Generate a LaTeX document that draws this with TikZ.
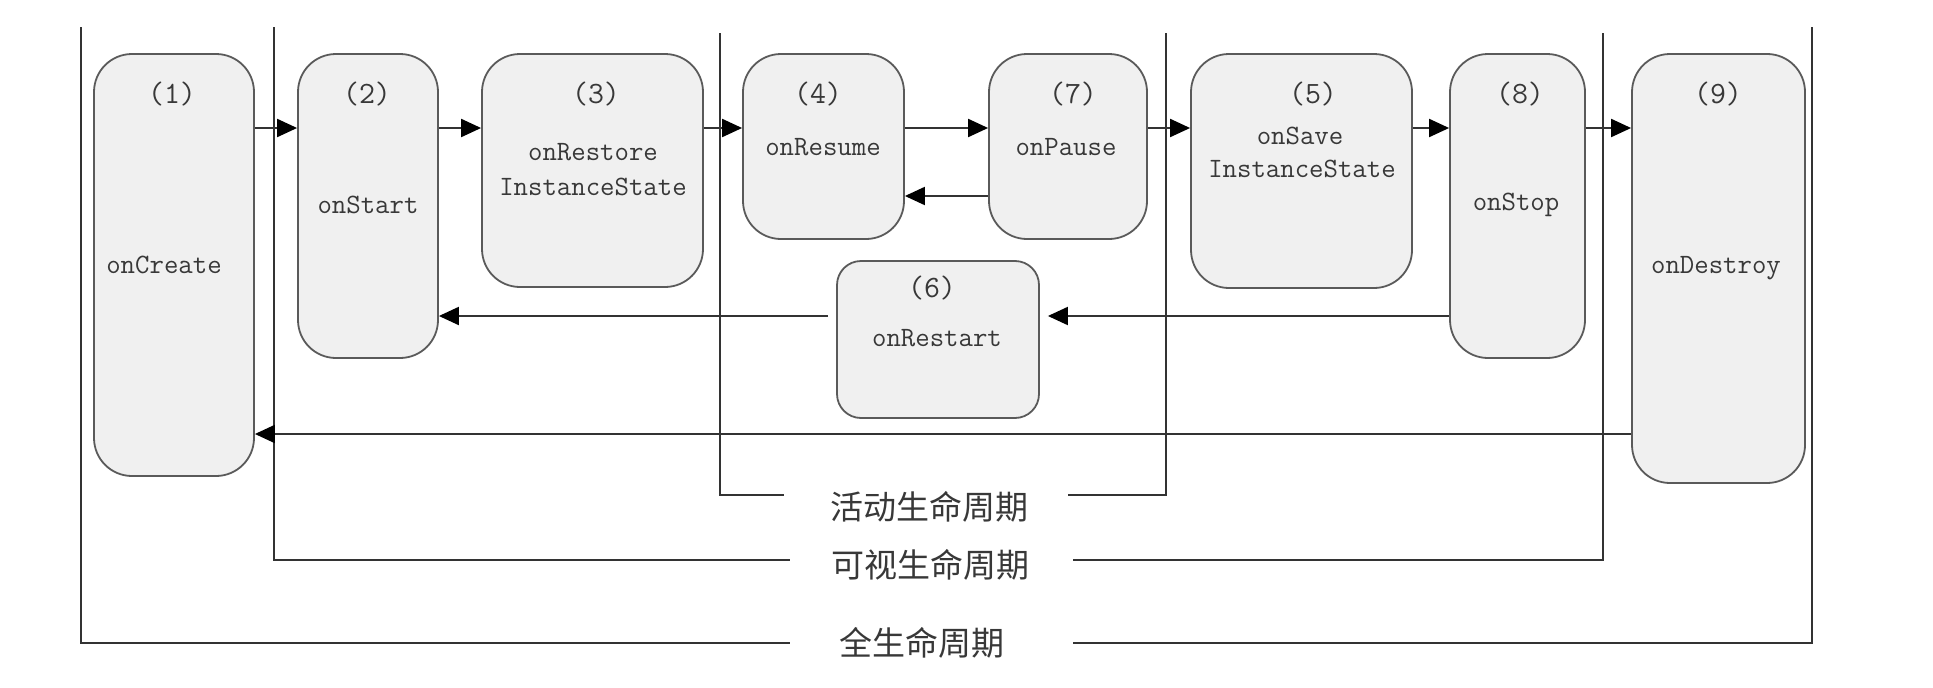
\documentclass[tikz,border=0pt]{standalone}
\usepackage{fontspec}
\newfontfamily\cjk{Noto Sans CJK SC}
\usetikzlibrary{arrows.meta}
\definecolor{boxc}{HTML}{5A5A5A}
\definecolor{boxfill}{HTML}{F0F0F0}
\definecolor{linec}{HTML}{333333}
\definecolor{txt}{HTML}{383838}
\begin{document}
\begin{tikzpicture}[x=1pt,y=-1pt,
  box/.style={draw=boxc, line width=1.8pt, fill=boxfill, rounded corners=38pt, inner sep=0pt},
  boxs/.style={box, rounded corners=24pt},
  lbl/.style={font=\fontsize{28}{30}\selectfont\ttfamily, text=txt, inner sep=0pt},
  num/.style={lbl, font=\fontsize{31}{33}\selectfont\ttfamily},
  arr/.style={-{Triangle[length=20pt,width=18pt,black]}, line width=2pt, draw=linec},
  life/.style={line width=2pt, draw=linec},
  cn/.style={font=\cjk\fontsize{33}{36}\selectfont, text=txt, inner sep=0pt}]
\useasboundingbox (0,0) rectangle (1933,688);

% lifecycle boundary lines
\coordinate (fL) at (81,27);   \coordinate (fLe) at (790,643);
\coordinate (fR) at (1812,27); \coordinate (fRe) at (1073,643);
\coordinate (vL) at (274,27);  \coordinate (vLe) at (790,560);
\coordinate (vR) at (1603,33); \coordinate (vRe) at (1073,560);
\coordinate (aL) at (720,33);  \coordinate (aLe) at (784,495);
\coordinate (aR) at (1166,33); \coordinate (aRe) at (1068,495);
\draw[life] (fL) |- (fLe);
\draw[life] (fR) |- (fRe);
\draw[life] (vL) |- (vLe);
\draw[life] (vR) |- (vRe);
\draw[life] (aL) |- (aLe);
\draw[life] (aR) |- (aRe);
\node[cn] (lact) at (929,507) {活动生命周期};
\node[cn] (lvis) at (930,565) {可视生命周期};
\node[cn] (lfull) at (922,643) {全生命周期};

% boxes
\node[box, minimum width=160pt, minimum height=422pt] (b1) at (174,265) {};
\node[box, minimum width=140pt, minimum height=304pt] (b2) at (368,206) {};
\node[box, minimum width=221pt, minimum height=233pt] (b3) at (592.5,170.5) {};
\node[box, minimum width=161pt, minimum height=185pt] (b4) at (823.5,146.5) {};
\node[box, minimum width=158pt, minimum height=185pt] (b7) at (1068,146.5) {};
\node[box, minimum width=221pt, minimum height=234pt] (b5) at (1301.5,171) {};
\node[box, minimum width=135pt, minimum height=304pt] (b8) at (1517.5,206) {};
\node[box, minimum width=173pt, minimum height=429pt] (b9) at (1718.5,268.5) {};
\node[boxs, minimum width=202pt, minimum height=157pt] (b6) at (938,339.5) {};

% box texts
\node[num] (n1) at (172,94) {(1)};
\node[lbl] (t1) at (164,265) {onCreate};
\node[num] (n2) at (367,94) {(2)};
\node[lbl] (t2) at (368,205) {onStart};
\node[num] (n3) at (596,94) {(3)};
\node[lbl] (t3a) at (593,152) {onRestore};
\node[lbl] (t3b) at (593,187) {InstanceState};
\node[num] (n4) at (818,94) {(4)};
\node[lbl] (t4) at (823,147) {onResume};
\node[num] (n7) at (1073,94) {(7)};
\node[lbl] (t7) at (1066,147) {onPause};
\node[num] (n5) at (1313,94) {(5)};
\node[lbl] (t5a) at (1300,136) {onSave};
\node[lbl] (t5b) at (1302,169) {InstanceState};
\node[num] (n8) at (1520,94) {(8)};
\node[lbl] (t8) at (1516,205) {onStop};
\node[num] (n9) at (1718,94) {(9)};
\node[lbl] (t9) at (1716,268) {onDestroy};
\node[num] (n6) at (932,288) {(6)};
\node[lbl] (t6) at (937,338) {onRestart};

% connector rows
\coordinate (rtop) at (0,128);
\coordinate (rback) at (0,196);
\coordinate (rrst) at (0,316);
\coordinate (rdst) at (0,434);

\draw[arr] (b1.east |- rtop) -- (b2.west |- rtop);
\draw[arr] (b2.east |- rtop) -- (b3.west |- rtop);
\draw[arr] (b3.east |- rtop) -- (b4.west |- rtop);
\draw[arr] (b4.east |- rtop) -- (b7.west |- rtop);
\draw[arr] (b7.east |- rtop) -- (b5.west |- rtop);
\draw[arr] (b5.east |- rtop) -- (b8.west |- rtop);
\draw[arr] (b8.east |- rtop) -- (b9.west |- rtop);
\draw[arr] (b7.west |- rback) -- (b4.east |- rback);
\draw[arr, shorten >=8pt] (b8.west |- rrst) -- (b6.east |- rrst);
\draw[arr, shorten <=8pt] (b6.west |- rrst) -- (b2.east |- rrst);
\draw[arr] (b9.west |- rdst) -- (b1.east |- rdst);
\end{tikzpicture}
\end{document}
